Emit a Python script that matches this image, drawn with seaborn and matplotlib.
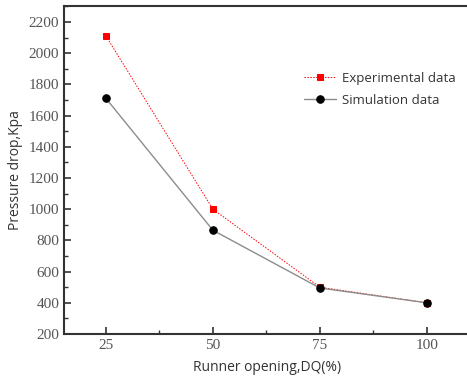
import matplotlib
matplotlib.use("Agg")
import matplotlib.pyplot as plt
import seaborn as sns
import pandas as pd
from matplotlib.ticker import MultipleLocator
from matplotlib.font_manager import FontProperties

openings = [25, 50, 75, 100]
experimental = [2110, 1000, 500, 400]
simulation = [1710, 865, 495, 400]

sns.set_style("ticks")
plt.rcParams['font.family'] = ['Liberation Serif', 'DejaVu Serif']

fig = plt.figure(figsize=(4.67, 3.8), dpi=100)
ax = fig.add_axes([64/467, 1 - 334/380, 406/467, 328/380])

df_exp = pd.DataFrame({"x": openings, "y": experimental})
df_sim = pd.DataFrame({"x": openings, "y": simulation})

sns.lineplot(data=df_exp, x="x", y="y", ax=ax, color="red", linestyle=(0, (1.5, 1.5)),
             linewidth=0.7, marker="s", markersize=4.6, markeredgecolor="red",
             label="Experimental data", zorder=3)
sns.lineplot(data=df_sim, x="x", y="y", ax=ax, color="#8c8c8c", linewidth=1.0,
             marker="o", markersize=5.4, markerfacecolor="black", markeredgecolor="black",
             label="Simulation data", zorder=4)

ax.set_xlim(15.2, 110.1)
ax.set_ylim(200, 2302)
ax.set_xticks(openings)
ax.set_xticklabels([str(v) for v in openings])
yt = list(range(200, 2201, 200))
ax.set_yticks(yt)
ax.set_yticklabels([str(v) for v in yt])
ax.xaxis.set_minor_locator(MultipleLocator(12.5))
ax.yaxis.set_minor_locator(MultipleLocator(100))
ax.tick_params(which="both", direction="in", colors="#333333", labelcolor="#555555")
ax.tick_params(which="major", length=5, width=1.2)
ax.tick_params(which="minor", length=3, width=1.0)
serif_fp = FontProperties(family=['Liberation Serif', 'DejaVu Serif', 'serif'], size=11)
for s in ax.spines.values():
    s.set_linewidth(1.5)
    s.set_color("#333333")

sans = ['Open Sans', 'DejaVu Sans']
ax.set_xlabel("Runner opening,DQ(%)", family=sans, fontsize=10, color="#333333", labelpad=6)
ax.set_ylabel("Pressure drop,Kpa", family=sans, fontsize=10, color="#333333", labelpad=4)

leg = ax.legend(loc="upper left", bbox_to_anchor=(0.562, 0.835), frameon=False,
                prop={"family": sans, "size": 9.5}, handlelength=2.4, labelspacing=0.65,
                handletextpad=0.5)
for t in leg.get_texts():
    t.set_color("#333333")

fig.canvas.draw()
for lbl in ax.get_xticklabels() + ax.get_yticklabels():
    lbl.set_fontproperties(serif_fp)

fig.savefig("out.png", dpi=100)
